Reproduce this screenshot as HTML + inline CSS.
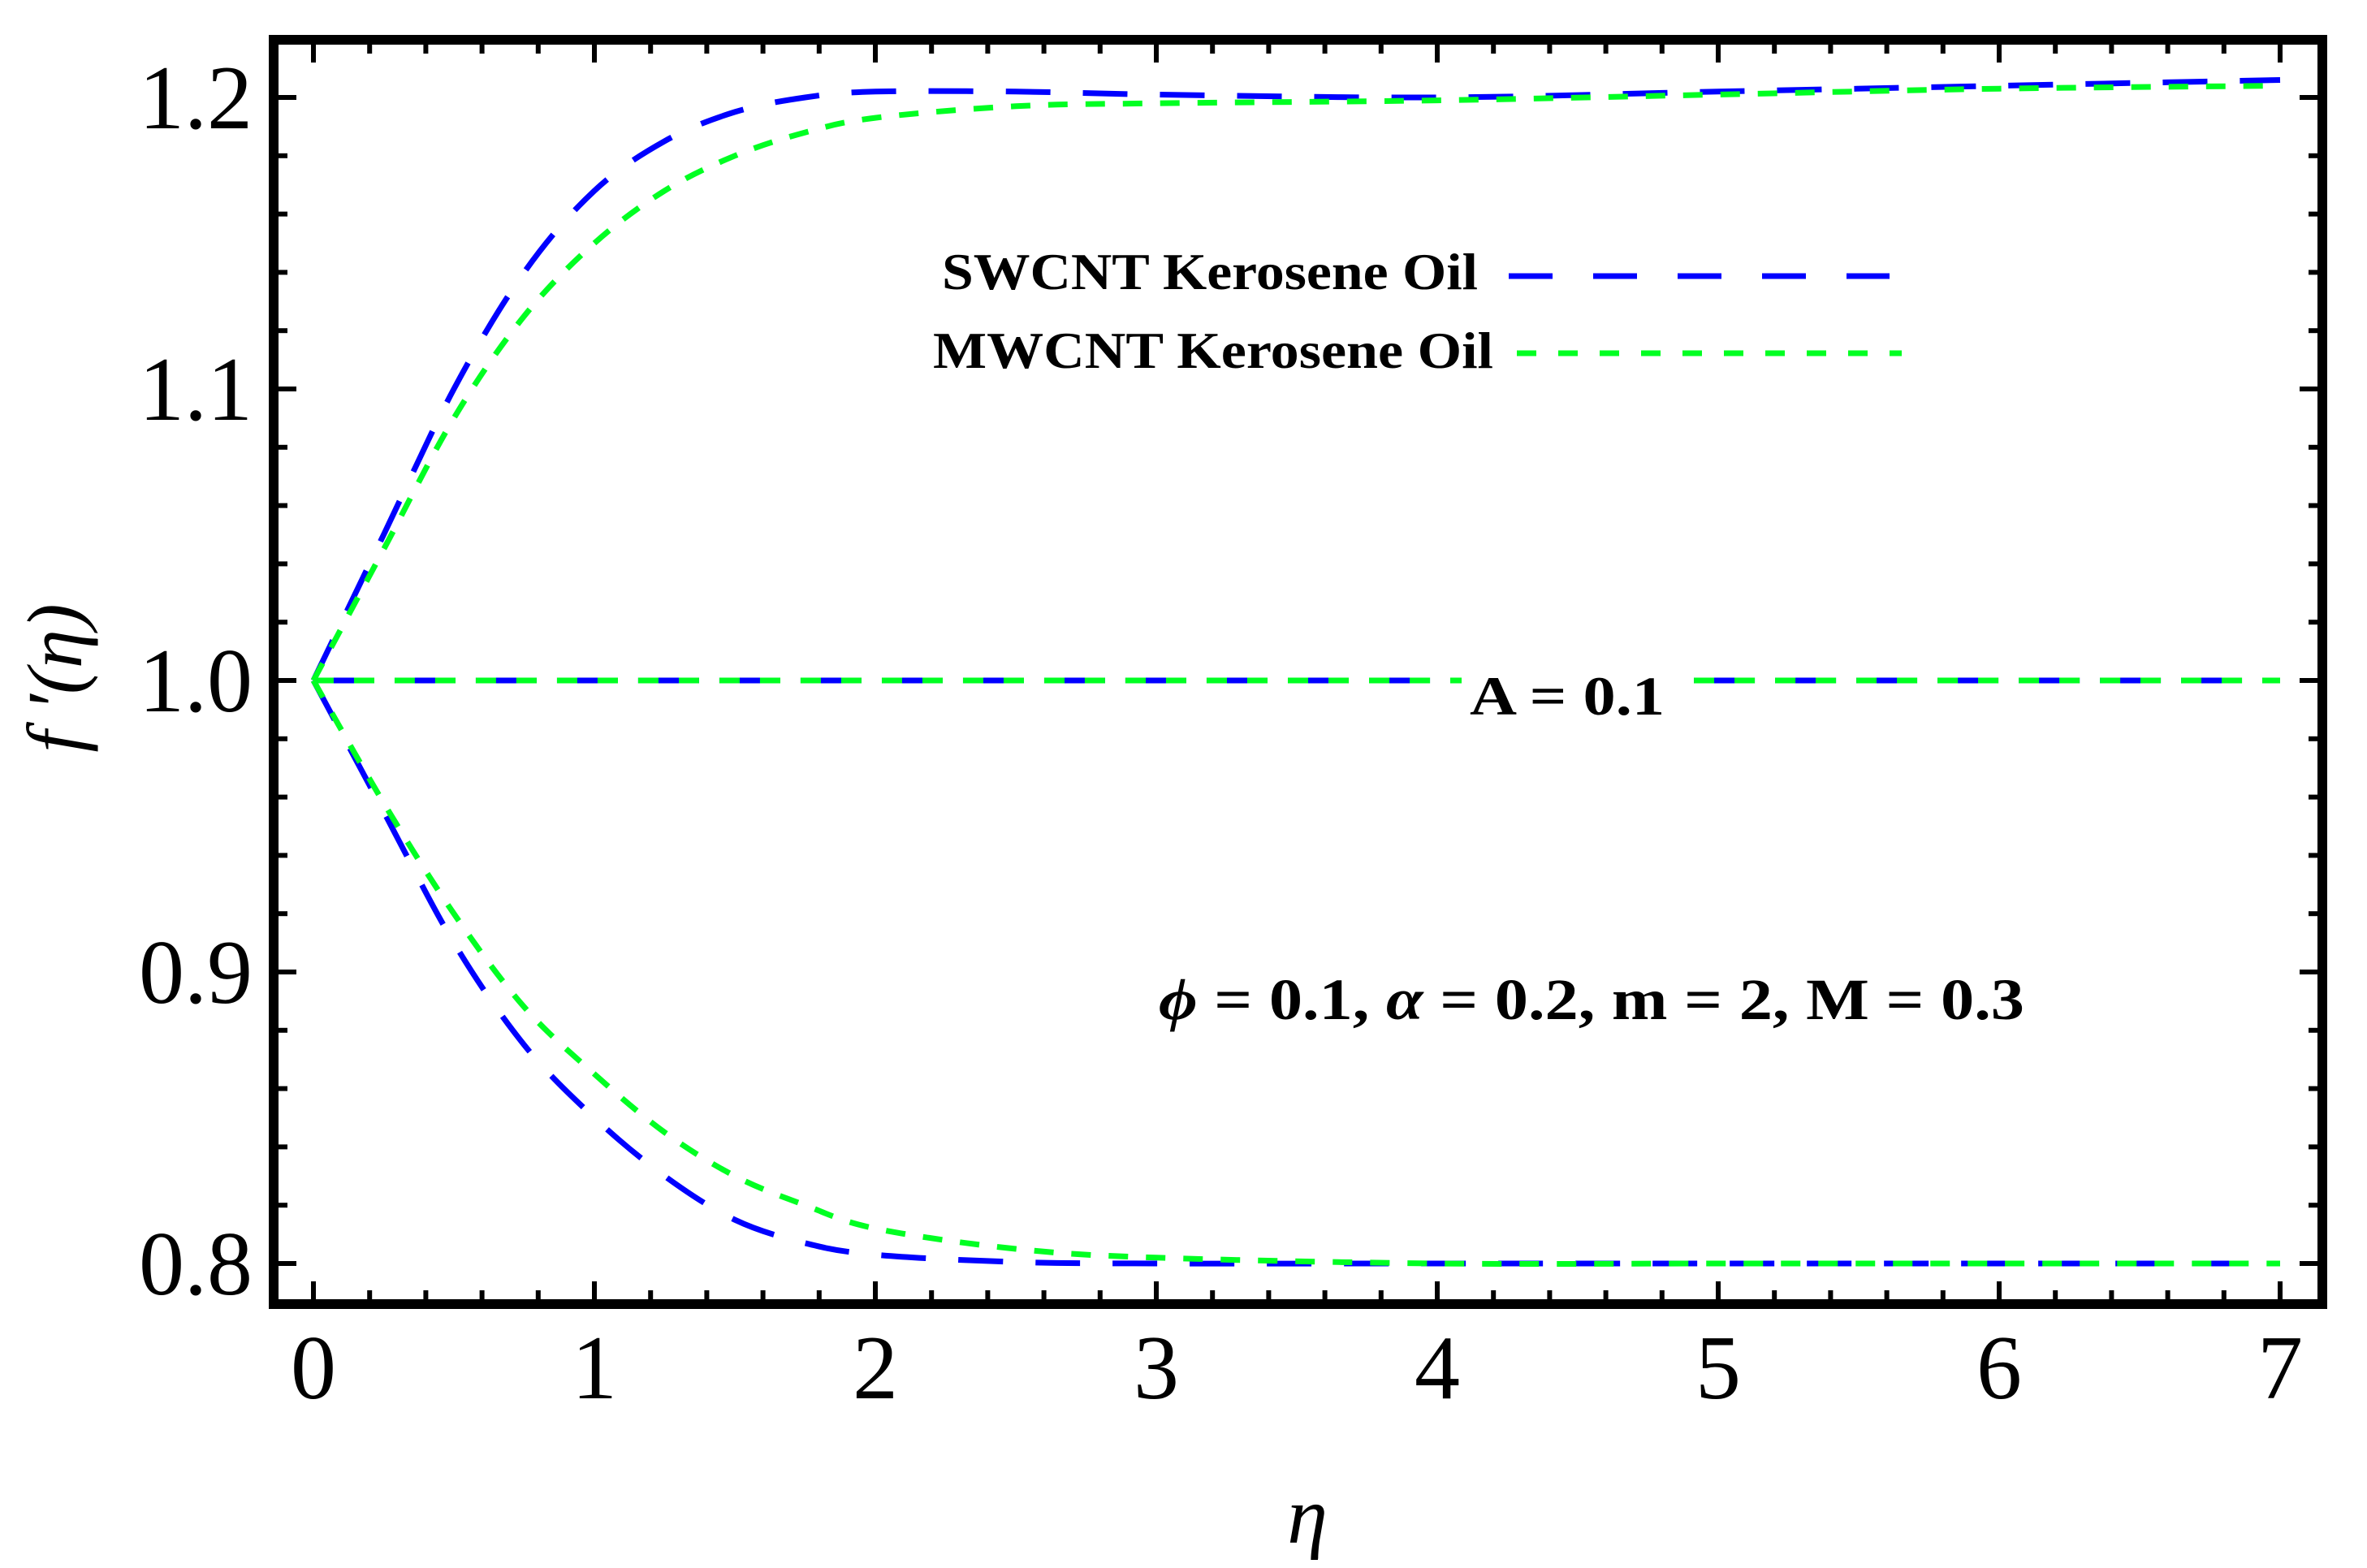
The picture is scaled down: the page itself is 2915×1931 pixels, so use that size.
<!DOCTYPE html>
<html><head><meta charset="utf-8"><style>
html,body{margin:0;padding:0;background:#fff}
svg{display:block}
</style></head><body>
<svg id="chart" width="2915" height="1931" viewBox="0 0 2915 1931" xmlns="http://www.w3.org/2000/svg">
<rect width="2915" height="1931" fill="#fff"/>
<g id="ticks"></g>
<g id="series"></g>
<rect x="337" y="49" width="2523" height="1557" fill="none" stroke="#000" stroke-width="12"/>
<g id="labels" font-family="Liberation Serif, serif" font-size="112" fill="#000"></g>
<text x="1610" y="1900" font-family="Liberation Serif, serif" font-style="italic" font-size="100" text-anchor="middle">η</text>
<text transform="translate(100,835) rotate(-90)" font-family="Liberation Serif, serif" font-style="italic" font-size="96" text-anchor="middle">f ′(η)</text>
<g font-family="Liberation Serif, serif" font-weight="bold" font-size="64">
<text x="1160" y="356" textLength="660" lengthAdjust="spacingAndGlyphs">SWCNT Kerosene Oil</text>
<line x1="1858" y1="340" x2="2327" y2="340" stroke="#0000ff" stroke-width="7" stroke-dasharray="54,50"/>
<text x="1149" y="453" textLength="690" lengthAdjust="spacingAndGlyphs">MWCNT Kerosene Oil</text>
<line x1="1868" y1="435" x2="2342" y2="435" stroke="#00ff22" stroke-width="7" stroke-dasharray="24,27"/>
</g>
<rect x="1800" y="820" width="265" height="70" fill="#fff"/>
<text x="1930" y="880" font-family="Liberation Serif, serif" font-weight="bold" font-size="68" text-anchor="middle" textLength="240" lengthAdjust="spacingAndGlyphs">A = 0.1</text>
<text x="1427" y="1255" font-family="Liberation Serif, serif" font-weight="bold" font-size="72" textLength="1066" lengthAdjust="spacingAndGlyphs"><tspan font-style="italic">ϕ</tspan> = 0.1, <tspan font-style="italic">α</tspan> = 0.2, m = 2, M = 0.3</text>
</svg>
<script>
const xTicks=[0,1,2,3,4,5,6,7];
const yTicks=[0.8,0.9,1.0,1.1,1.2];
const yTickLabels=["0.8","0.9","1.0","1.1","1.2"];
const swUpperX=[0,0.25,0.5,0.75,1,1.25,1.5,1.75,2,2.5,3,4,5,6,7];
const swUpperY=[1.0,1.05,1.10,1.14,1.168,1.185,1.195,1.2,1.202,1.202,1.201,1.2,1.202,1.204,1.206];
const mwUpperX=[0,0.25,0.5,0.75,1,1.25,1.5,1.75,2,2.5,3,4,5,6,7];
const mwUpperY=[1.0,1.045,1.09,1.125,1.15,1.168,1.18,1.188,1.193,1.197,1.198,1.199,1.201,1.203,1.204];
const swLowerX=[0,0.25,0.5,0.75,1,1.25,1.5,1.75,2,2.5,3,4,5,6,7];
const swLowerY=[1.0,0.955,0.91,0.875,0.85,0.83,0.815,0.807,0.803,0.8005,0.8,0.8,0.8,0.8,0.8];
const mwLowerX=[0,0.25,0.5,0.75,1,1.25,1.5,1.75,2,2.5,3,4,5,6,7];
const mwLowerY=[1.0,0.958,0.92,0.888,0.865,0.845,0.83,0.82,0.812,0.805,0.802,0.8,0.8,0.8,0.8];
const flatX=[0,7];
const flatY=[1.0,1.0];

const NS="http://www.w3.org/2000/svg";
const X0=386,XU=346,Y1=838,YU=3590;
function sx(v){return X0+v*XU;}
function sy(v){return Y1-(v-1)*YU;}
function mk(t,a){const e=document.createElementNS(NS,t);for(const k in a)e.setAttribute(k,a[k]);return e;}
const tg=document.getElementById('ticks');
for(let i=0;i<=35;i++){const v=i*0.2;const major=i%5===0;const L=major?22:11;const x=sx(v);
 const b=mk('line',{x1:x,y1:1600,x2:x,y2:1600-L,stroke:'#000','stroke-width':6});
 
 
 tg.appendChild(b);
 const t=mk('line',{x1:x,y1:55,x2:x,y2:55+L,stroke:'#000','stroke-width':6});
 
 
 tg.appendChild(t);}
for(let i=0;i<=21;i++){const v=0.8+i*0.02;const major=i%5===0;const L=major?22:11;const y=sy(v);
 if(y<55||y>1600)continue;
 const l=mk('line',{x1:343,y1:y,x2:343+L,y2:y,stroke:'#000','stroke-width':6});
 
 
 tg.appendChild(l);
 const r=mk('line',{x1:2854,y1:y,x2:2854-L,y2:y,stroke:'#000','stroke-width':6});
 
 
 tg.appendChild(r);}
const lg=document.getElementById('labels');
xTicks.forEach(v=>{const t=mk('text',{x:sx(v),y:1722,'text-anchor':'middle'});t.textContent=String(v);
 
 
 lg.appendChild(t);});
yTicks.forEach((v,i)=>{const t=mk('text',{x:311,y:sy(v)+38,'text-anchor':'end'});t.textContent=yTickLabels[i];
 
 
 lg.appendChild(t);});
const sg=document.getElementById('series');
function smooth(xs,ys){let d='M'+sx(xs[0])+','+sy(ys[0]);const n=xs.length;
 for(let i=0;i<n-1;i++){const p0=i?i-1:i,p3=i+2<n?i+2:i+1;
  const x1=sx(xs[i])+(sx(xs[i+1])-sx(xs[p0]))/6,y1=sy(ys[i])+(sy(ys[i+1])-sy(ys[p0]))/6;
  const x2=sx(xs[i+1])-(sx(xs[p3])-sx(xs[i]))/6,y2=sy(ys[i+1])-(sy(ys[p3])-sy(ys[i]))/6;
  d+='C'+x1.toFixed(1)+','+y1.toFixed(1)+' '+x2.toFixed(1)+','+y2.toFixed(1)+' '+sx(xs[i+1]).toFixed(1)+','+sy(ys[i+1]).toFixed(1);}
 return d;}
const blue={stroke:'#0000ff','stroke-width':7,fill:'none','stroke-dasharray':'55,40'};
const green={stroke:'#00ff22','stroke-width':7,fill:'none','stroke-dasharray':'24,22'};
const s1=mk('path',Object.assign({d:smooth(flatX,flatY)},blue,{'stroke-dasharray':'75,25'}));


sg.appendChild(s1);
const s2=mk('path',Object.assign({d:smooth(flatX,flatY)},green,{'stroke-dasharray':'25,25'}));


sg.appendChild(s2);
const s3=mk('path',Object.assign({d:smooth(swUpperX,swUpperY)},blue));


sg.appendChild(s3);
const s4=mk('path',Object.assign({d:smooth(swLowerX,swLowerY)},blue));


sg.appendChild(s4);
const s5=mk('path',Object.assign({d:smooth(mwUpperX,mwUpperY)},green));


sg.appendChild(s5);
const s6=mk('path',Object.assign({d:smooth(mwLowerX,mwLowerY)},green));


sg.appendChild(s6);
</script>
</body></html>
